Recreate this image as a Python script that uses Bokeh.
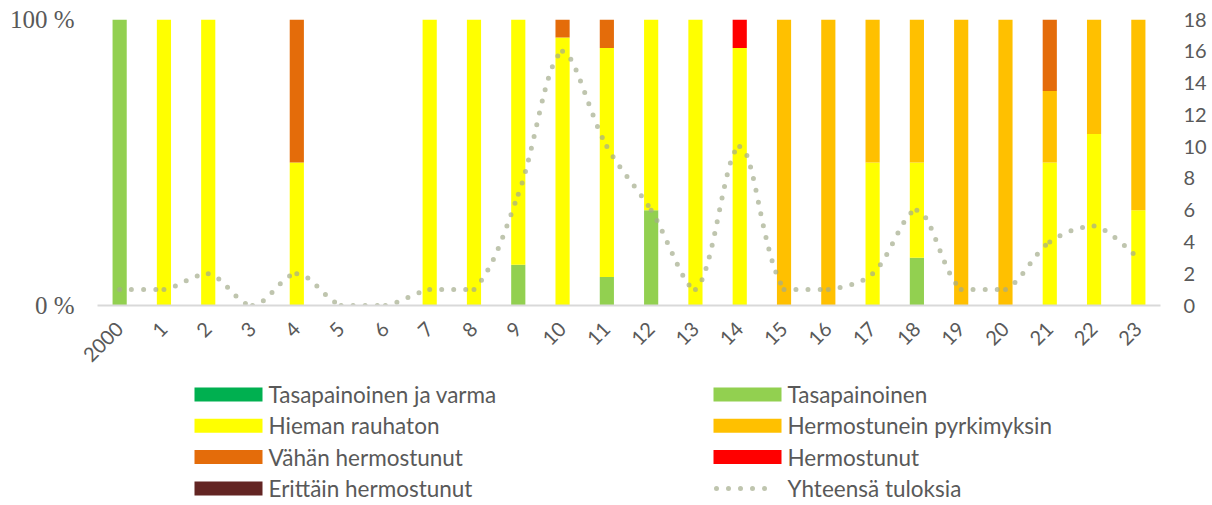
import math
from bokeh.plotting import figure
from bokeh.models import (Range1d, LinearAxis, FixedTicker, ColumnDataSource)
from bokeh.layouts import column
from bokeh.embed import file_html
from bokeh.resources import INLINE
from bokeh.core.properties import value

# ---------------- data ----------------
categories = ["2000", "1", "2", "3", "4", "5", "6", "7", "8", "9", "10", "11",
              "12", "13", "14", "15", "16", "17", "18", "19", "20", "21", "22", "23"]

series_names = ["Tasapainoinen ja varma", "Tasapainoinen", "Hieman rauhaton",
                "Hermostunein pyrkimyksin", "Vähän hermostunut", "Hermostunut",
                "Erittäin hermostunut"]
series_colors = ["#00B050", "#92D050", "#FFFF00", "#FFC000", "#E46C0A", "#FF0000", "#632523"]

tasapainoinen_ja_varma = [0, 0, 0, 0, 0, 0, 0, 0, 0, 0, 0, 0, 0, 0, 0, 0, 0, 0, 0, 0, 0, 0, 0, 0]
tasapainoinen          = [1, 0, 0, 0, 0, 0, 0, 0, 0, 1, 0, 1, 2, 0, 0, 0, 0, 0, 1, 0, 0, 0, 0, 0]
hieman_rauhaton        = [0, 1, 2, 0, 1, 0, 0, 1, 1, 6, 15, 8, 4, 1, 9, 0, 0, 1, 2, 0, 0, 2, 3, 1]
hermostunein_pyrk      = [0, 0, 0, 0, 0, 0, 0, 0, 0, 0, 0, 0, 0, 0, 0, 1, 1, 1, 3, 1, 1, 1, 2, 2]
vahan_hermostunut      = [0, 0, 0, 0, 1, 0, 0, 0, 0, 0, 1, 1, 0, 0, 0, 0, 0, 0, 0, 0, 0, 1, 0, 0]
hermostunut            = [0, 0, 0, 0, 0, 0, 0, 0, 0, 0, 0, 0, 0, 0, 1, 0, 0, 0, 0, 0, 0, 0, 0, 0]
erittain_hermostunut   = [0, 0, 0, 0, 0, 0, 0, 0, 0, 0, 0, 0, 0, 0, 0, 0, 0, 0, 0, 0, 0, 0, 0, 0]

yhteensa_tuloksia = [1, 1, 2, 0, 2, 0, 0, 1, 1, 7, 16, 10, 6, 1, 10, 1, 1, 2, 6, 1, 1, 4, 5, 3]
line_name = "Yhteensä tuloksia"

left_ticks = [0, 1]
left_tick_labels = ["0 %", "100 %"]
right_ticks = [0, 2, 4, 6, 8, 10, 12, 14, 16, 18]

# ---------------- styling ----------------
GRAY_TEXT = "#595959"
GRID = "#D9D9D9"
LINE_COLOR = "#A4AC8C"
LINE_ALPHA = 0.7
SANS = "Lato"

W = 1212
BL, BR, BT = 97, 52, 19           # frame borders (page pixels)
FRAME_H = 286
BB = 72
MAIN_H = BT + FRAME_H + BB        # 377
LEG_H = 127

counts = [tasapainoinen_ja_varma, tasapainoinen, hieman_rauhaton, hermostunein_pyrk,
          vahan_hermostunut, hermostunut, erittain_hermostunut]
xs = list(range(len(categories)))

data = {"x": xs}
keys = []
for k, arr in enumerate(counts):
    key = f"s{k}"
    keys.append(key)
    data[key] = [(c / t if t else 0.0) for c, t in zip(arr, yhteensa_tuloksia)]
source = ColumnDataSource(data)

p = figure(width=W, height=MAIN_H, output_backend="svg", toolbar_location=None,
           x_range=Range1d(-0.5, len(categories) - 0.5), y_range=Range1d(0, 1),
           min_border_left=BL, min_border_right=BR, min_border_top=BT, min_border_bottom=BB)
p.outline_line_color = None
p.background_fill_color = "white"
p.border_fill_color = "white"
p.extra_y_ranges = {"right": Range1d(0, 18)}

p.vbar_stack(keys, x="x", width=0.32, source=source, color=series_colors, line_color=None)

# smoothed total line (bezier segments, Excel-like smoothing)
frame_w = W - BL - BR
sx, sy = frame_w / len(categories), FRAME_H / 18.0
x0s, y0s, x1s, y1s, cx0s, cy0s, cx1s, cy1s = [], [], [], [], [], [], [], []
n = len(xs)
pts = list(zip(xs, yhteensa_tuloksia))


def dist(a, b):
    return math.hypot((a[0] - b[0]) * sx, (a[1] - b[1]) * sy)


for i in range(n - 1):
    P0 = pts[i - 1] if i > 0 else pts[i]
    P1 = pts[i]
    P2 = pts[i + 1]
    P3 = pts[i + 2] if i + 2 < n else pts[i + 1]
    d01, d12, d23 = dist(P0, P1), dist(P1, P2), dist(P2, P3)
    f1 = (1 / 3) * d12 / (d01 + d12) if (d01 + d12) else 0
    f2 = (1 / 3) * d12 / (d12 + d23) if (d12 + d23) else 0
    if i == 0:
        f1 = 1 / 6
    if i + 2 >= n:
        f2 = 1 / 6
    lo, hi = min(P1[1], P2[1]), max(P1[1], P2[1])
    cy0 = min(max(P1[1] + (P2[1] - P0[1]) * f1, lo), hi)
    cy1 = min(max(P2[1] - (P3[1] - P1[1]) * f2, lo), hi)
    x0s.append(P1[0]); y0s.append(P1[1]); x1s.append(P2[0]); y1s.append(P2[1])
    cx0s.append(P1[0] + (P2[0] - P0[0]) * f1); cy0s.append(cy0)
    cx1s.append(P2[0] - (P3[0] - P1[0]) * f2); cy1s.append(cy1)

p.bezier(x0=x0s, y0=y0s, x1=x1s, y1=y1s, cx0=cx0s, cy0=cy0s, cx1=cx1s, cy1=cy1s,
         y_range_name="right", line_color=LINE_COLOR, line_alpha=LINE_ALPHA, line_width=5,
         line_dash="0 12", line_cap="round")

# axes
p.xaxis.ticker = FixedTicker(ticks=xs)
p.xaxis.major_label_overrides = {i: c for i, c in zip(xs, categories)}
p.xaxis.major_label_orientation = math.pi / 4
p.xaxis.axis_line_color = GRID
p.xaxis.axis_line_width = 2
p.xaxis.major_tick_line_color = None
p.xaxis.minor_tick_line_color = None
p.xaxis.major_tick_out = 0
p.xaxis.major_tick_in = 0
p.xaxis.major_label_standoff = 20
p.xaxis.major_label_text_font = SANS
p.xaxis.major_label_text_font_size = "20px"
p.xaxis.major_label_text_color = GRAY_TEXT

p.yaxis.ticker = FixedTicker(ticks=left_ticks)
p.yaxis.major_label_overrides = {t: l for t, l in zip(left_ticks, left_tick_labels)}
p.yaxis.axis_line_color = None
p.yaxis.major_tick_line_color = None
p.yaxis.minor_tick_line_color = None
p.yaxis.major_tick_out = 0
p.yaxis.major_tick_in = 0
p.yaxis.major_label_standoff = 23
p.yaxis.major_label_text_font = "Liberation Serif"
p.yaxis.major_label_text_font_size = "25px"
p.yaxis.major_label_text_color = GRAY_TEXT

ra = LinearAxis(y_range_name="right", ticker=FixedTicker(ticks=right_ticks))
ra.axis_line_color = None
ra.major_tick_line_color = None
ra.minor_tick_line_color = None
ra.major_tick_out = 0
ra.major_tick_in = 0
ra.major_label_standoff = 23
ra.major_label_text_font = SANS
ra.major_label_text_font_size = "20px"
ra.major_label_text_color = GRAY_TEXT
p.add_layout(ra, "right")

p.xgrid.grid_line_color = None
p.ygrid.ticker = FixedTicker(ticks=[1])
p.ygrid.grid_line_color = GRID
p.ygrid.grid_line_width = 2

# ---------------- legend (separate strip, page-pixel coordinates) ----------------
page_bottom = MAIN_H + LEG_H
leg = figure(width=W, height=LEG_H, output_backend="svg", toolbar_location=None,
             x_range=Range1d(BL, W - BR), y_range=Range1d(0, LEG_H),
             min_border_left=BL, min_border_right=BR,
             min_border_top=0, min_border_bottom=0)
leg.axis.visible = False
leg.grid.visible = False
leg.outline_line_color = None
leg.background_fill_color = "white"
leg.border_fill_color = "white"

col_left = [194, 713]      # swatch left edge per column (page x)
swatch_w, swatch_h = 68, 14
first_row_page_y = 394
row_step = 31.3
text_gap = 6

items = series_names + [line_name]
sw_x, sw_y, sw_c = [], [], []
tx, ty, tt = [], [], []
line_item_pos = None
for i, name in enumerate(items):
    c = i % 2
    r = i // 2
    x_left = col_left[c]
    yc = page_bottom - (first_row_page_y + r * row_step)
    if i < len(series_names):
        sw_x.append(x_left + swatch_w / 2); sw_y.append(yc); sw_c.append(series_colors[i])
    else:
        line_item_pos = (x_left, yc)
    tx.append(x_left + swatch_w + text_gap); ty.append(yc); tt.append(name)

leg.rect(x=sw_x, y=sw_y, width=swatch_w, height=swatch_h, fill_color=sw_c, line_color=None)
lx, ly = line_item_pos
leg.line(x=[lx + 3, lx + 63], y=[ly, ly], line_color=LINE_COLOR, line_alpha=LINE_ALPHA,
         line_width=5, line_dash="0 12", line_cap="round")
leg.text(x=tx, y=ty, text=tt, text_font=value(SANS), text_font_size="22.5px",
         text_color=GRAY_TEXT, text_baseline="middle", text_align="left")

layout = column(p, leg, spacing=0)
open("out.html", "w").write(file_html(layout, INLINE))
